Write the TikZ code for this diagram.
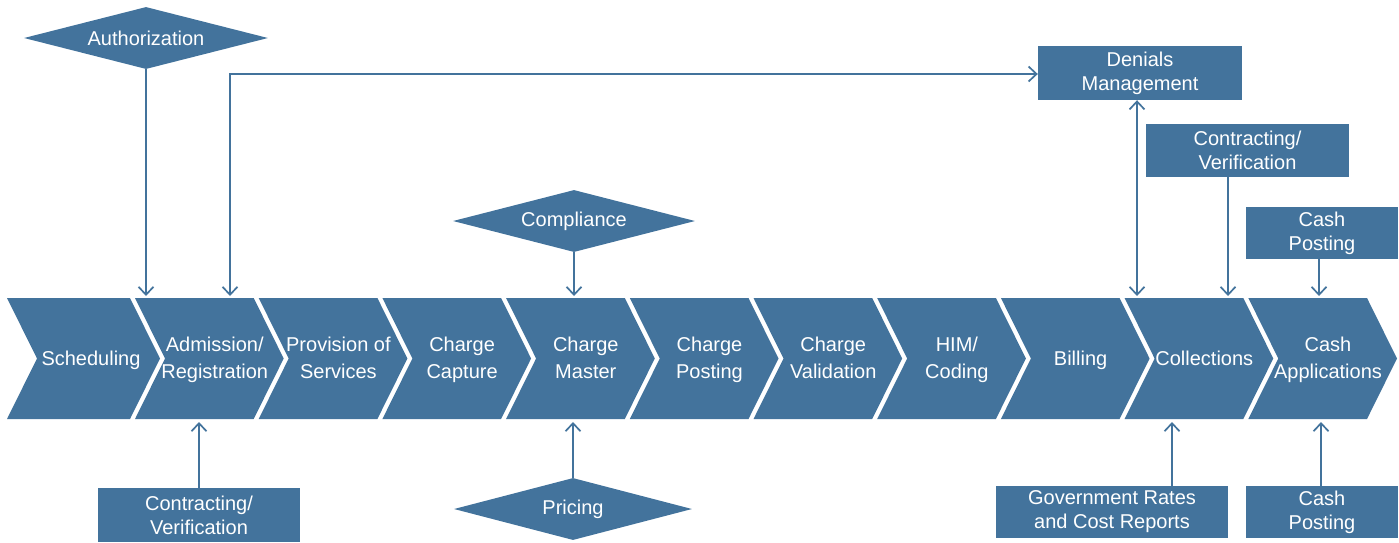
\documentclass[tikz,border=0pt]{standalone}
\usepackage{fontspec}
\setmainfont{Liberation Sans}
\usetikzlibrary{shapes.geometric,arrows.meta}
\definecolor{steel}{HTML}{43739C}
\tikzset{
  lbl/.style={text=white, font=\fontsize{20}{24}\selectfont, align=center},
  chevlbl/.style={lbl, font=\fontsize{20}{27.5}\selectfont, text depth=4.5pt},
  boxnode/.style={lbl, fill=steel, draw=none, rectangle, inner sep=0pt},
  diam/.style={lbl, fill=steel, draw=none, diamond, aspect=4, inner sep=0pt,
               minimum width=242pt, minimum height=62pt},
  link/.style={draw=steel, line width=1.7pt, -{Straight Barb[length=8pt,width=15pt]}},
  link2/.style={draw=steel, line width=1.7pt, {Straight Barb[length=8pt,width=15pt]}-{Straight Barb[length=8pt,width=15pt]}}
}
\begin{document}
\begin{tikzpicture}[x=1pt,y=-1pt]
\useasboundingbox (0,0) rectangle (1399,542);

% chevron row: right edges at 130 + 123.7 i, 5pt gap between chevrons
\foreach \i/\txt in {0/{Scheduling}, 1/{Admission/\\Registration}, 2/{Provision of\\Services},
  3/{Charge\\Capture}, 4/{Charge\\Master}, 5/{Charge\\Posting}, 6/{Charge\\Validation},
  7/{HIM/\\Coding}, 8/{Billing}, 9/{Collections}, 10/{Cash\\Applications}}{
  \pgfmathsetmacro{\R}{130+123.7*\i}
  \pgfmathsetmacro{\L}{\i==0 ? 7 : \R-118.7}
  \fill[steel] (\L,298) -- (\R,298) -- (\R+30,358.5) -- (\R,419) -- (\L,419)
     -- (\L+30,358.5) -- cycle;
  \node[chevlbl] (c\i) at (\R-39,360) {\txt};
}

% attachment points on the top and bottom edges of the row
\coordinate (t1) at (146,296);
\coordinate (t2) at (230,296);
\coordinate (t3) at (574,296);
\coordinate (t4) at (1137,296);
\coordinate (t5) at (1228,296);
\coordinate (t6) at (1319,296);
\coordinate (b1) at (199,422);
\coordinate (b2) at (573,422);
\coordinate (b3) at (1172,422);
\coordinate (b4) at (1321,422);
\coordinate (loop) at (230,74);

% diamonds
\node[diam, minimum width=244pt] (auth) at (146,38) {Authorization};
\node[diam] (comp) at (574,221) {Compliance};
\node[diam, minimum width=238pt] (price) at (573,509) {Pricing};

% boxes
\node[boxnode, minimum width=204pt, minimum height=54pt] (den) at (1140,73) {Denials\\Management};
\node[boxnode, minimum width=203pt, minimum height=53pt] (ctop) at (1247.5,150.5) {Contracting/\\Verification};
\node[boxnode, minimum width=152pt, minimum height=52pt] (cptop) at (1322,233) {Cash\\Posting};
\node[boxnode, minimum width=202pt, minimum height=54pt] (cbot) at (199,515) {Contracting/\\Verification};
\node[boxnode, minimum width=232pt, minimum height=52pt] (gov) at (1112,512) {Government Rates\\and Cost Reports};
\node[boxnode, minimum width=152pt, minimum height=52pt] (cpbot) at (1322,512) {Cash\\Posting};

% connectors
\draw[link] (auth.south) -- (t1);
\draw[link2] (t2) -- (loop) -- (loop -| den.west);
\draw[link] (comp.south) -- (t3);
\draw[link2] (t4 |- den.south) -- (t4);
\draw[link] (t5 |- ctop.south) -- (t5);
\draw[link] (t6 |- cptop.south) -- (t6);
\draw[link] (b1 |- cbot.north) -- (b1);
\draw[link] (price.north) -- (b2);
\draw[link] (b3 |- gov.north) -- (b3);
\draw[link] (b4 |- cpbot.north) -- (b4);
\end{tikzpicture}
\end{document}
